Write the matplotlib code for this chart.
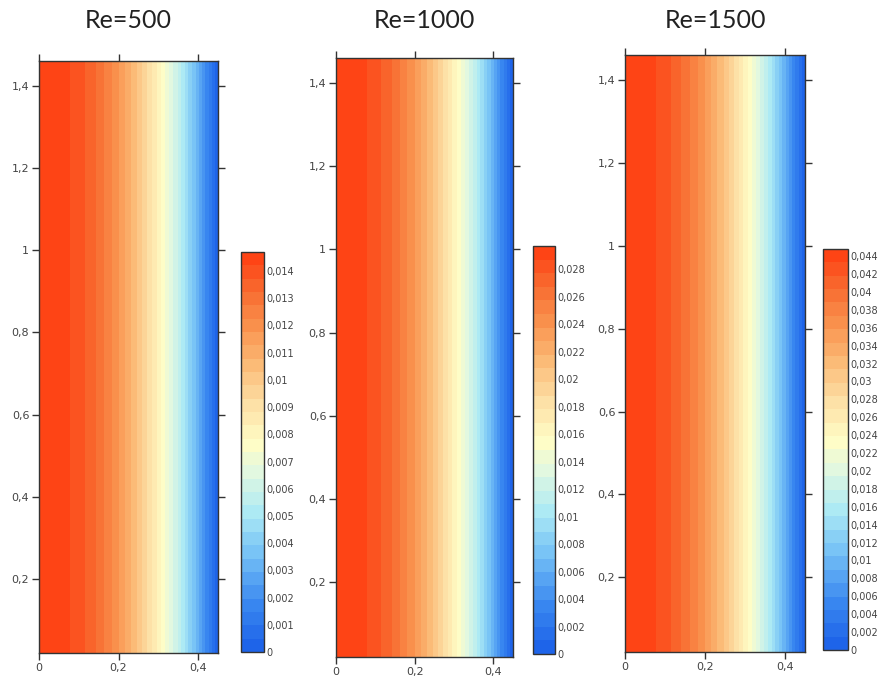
import numpy as np
import matplotlib
matplotlib.use("Agg")
import matplotlib.pyplot as plt
from matplotlib.colors import LinearSegmentedColormap
from matplotlib.ticker import FuncFormatter, MultipleLocator

# velocity profiles across the channel half-width (x), uniform along y
x_nodes = [0.0, 0.05, 0.10, 0.15, 0.20, 0.25, 0.30, 0.35, 0.40, 0.45]
u_re500 = [0.0147, 0.0145, 0.0140, 0.0131, 0.0118, 0.0102, 0.0082, 0.0058, 0.0031, 0.0]
u_re1000 = [0.0297, 0.0293, 0.0283, 0.0264, 0.0238, 0.0205, 0.0165, 0.0117, 0.0062, 0.0]
u_re1500 = [0.0448, 0.0442, 0.0426, 0.0398, 0.0359, 0.0310, 0.0249, 0.0177, 0.0094, 0.0]
y_nodes = [0.0, 1.5]

titles = ["Re=500", "Re=1000", "Re=1500"]
profiles = [u_re500, u_re1000, u_re1500]
cbar_step = [0.001, 0.002, 0.002]
cbar_top = [0.014, 0.028, 0.044]

# pixel boxes (left, top, right, bottom) of plots and colorbars
plot_boxes = [(39, 61, 218, 653), (336, 58, 513, 657), (625, 55, 805, 652)]
cbar_boxes = [(241, 252, 264, 652), (533, 246, 555, 654), (823, 249, 848, 650)]

W, H = 888, 681

cmap = LinearSegmentedColormap.from_list("flow", [
    (0.00, "#1a5fe8"),
    (0.12, "#3a88f0"),
    (0.25, "#78c4f6"),
    (0.35, "#aeeaf4"),
    (0.45, "#e2f8e0"),
    (0.52, "#fffdc6"),
    (0.62, "#fde0a6"),
    (0.72, "#fbba76"),
    (0.82, "#f9904c"),
    (0.91, "#f8682e"),
    (1.00, "#ff3c10"),
])

comma = FuncFormatter(lambda v, p: ("%g" % round(v, 6)).replace(".", ","))

fig = plt.figure(figsize=(W / 100, H / 100), dpi=100)


def to_rect(box):
    l, t, r, b = box
    return [l / W, 1 - b / H, (r - l) / W, (b - t) / H]


for title, u, step, top, pbox, cbox in zip(titles, profiles, cbar_step, cbar_top,
                                            plot_boxes, cbar_boxes):
    ax = fig.add_axes(to_rect(pbox))
    X, Y = np.meshgrid(x_nodes, y_nodes)
    Z = np.tile(u, (len(y_nodes), 1))
    levels = np.linspace(0, max(u), 31)
    cf = ax.contourf(X, Y, Z, levels=levels, cmap=cmap)
    ax.set_xlim(0, 0.45)
    ax.set_ylim(0.02, 1.46)
    ax.xaxis.set_major_locator(MultipleLocator(0.2))
    ax.yaxis.set_major_locator(MultipleLocator(0.2))
    ax.xaxis.set_major_formatter(comma)
    ax.yaxis.set_major_formatter(comma)
    ax.tick_params(direction="out", length=5, width=1, color="#333333",
                   top=True, right=True, labelsize=8, labelcolor="#444444", pad=2)
    for s in ax.spines.values():
        s.set_color("#333333")
        s.set_linewidth(1.0)
    cx = pbox[0] + (pbox[2] - pbox[0]) / 2
    fig.text(cx / W, 1 - 21 / H, title, ha="center", va="center",
             fontsize=18, family="Lato", color="#222222")

    cax = fig.add_axes(to_rect(cbox))
    cb = fig.colorbar(cf, cax=cax)
    cb.set_ticks(np.arange(0, top + step / 2, step))
    cb.ax.yaxis.set_major_formatter(comma)
    cb.ax.tick_params(length=0, labelsize=7, labelcolor="#444444", pad=2)
    cb.outline.set_edgecolor("#333333")
    cb.outline.set_linewidth(1.0)

fig.savefig("out.png", dpi=100, facecolor="white")
